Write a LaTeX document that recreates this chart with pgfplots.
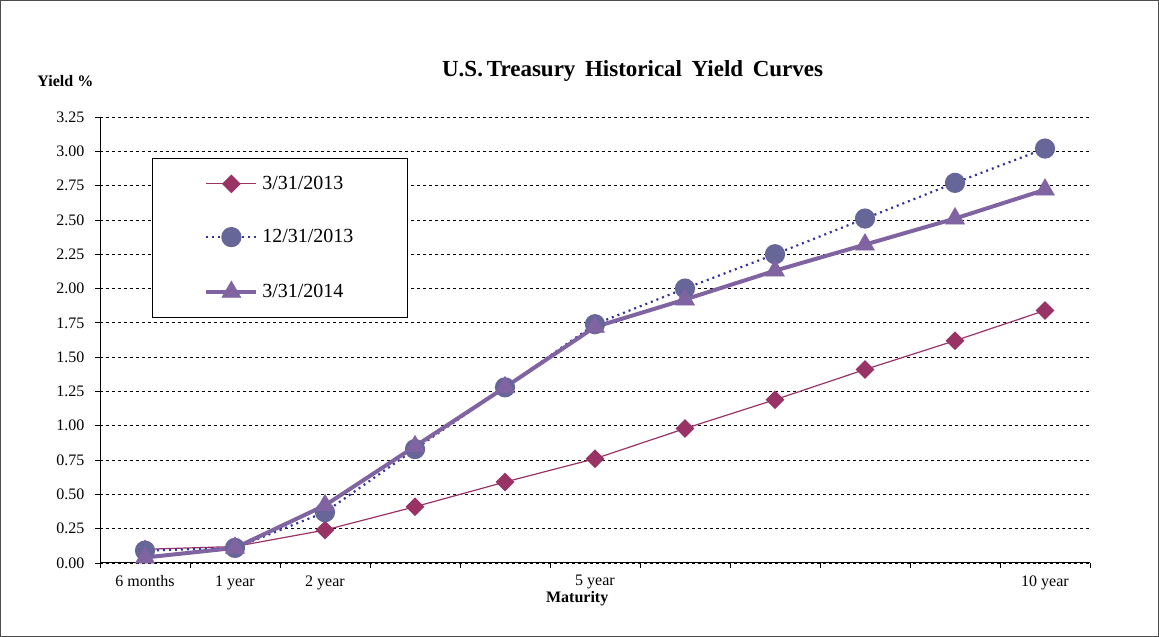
\documentclass[border=0pt]{standalone}
\usepackage{pgfplots}
\pgfplotsset{compat=1.18}
\usepackage{fontspec}
\setmainfont{Liberation Serif}
\definecolor{cA}{HTML}{993366}
\definecolor{cB}{HTML}{666699}
\definecolor{cBl}{HTML}{333399}
\definecolor{cC}{HTML}{8064A2}
\begin{document}
\begin{tikzpicture}
\draw[line width=1bp, draw=black!70] (0.5bp,0.5bp) rectangle (1158.5bp,636.5bp);
\begin{axis}[
  at={(100bp,74bp)}, anchor=south west,
  scale only axis, width=990bp, height=446bp,
  xmin=-0.5, xmax=10.5, ymin=0, ymax=3.25,
  axis x line*=bottom, axis y line*=left,
  axis line style={line width=1bp, -},
  xtick={-0.5,0.5,...,10.5}, xticklabels={},
  extra x ticks={0,1,2,5,10},
  extra x tick labels={6 months,1 year,2 year,5 year,10 year},
  extra x tick style={major tick length=0pt, grid=none, xticklabel style={yshift=-9bp}},
  ytick={0,0.25,...,3.25},
  tick align=outside, major tick length=5bp,
  tick style={line width=0.8bp, black},
  yticklabel style={xshift=-7bp, /pgf/number format/fixed, /pgf/number format/fixed zerofill, /pgf/number format/precision=2, /pgf/number format/assume math mode=true},
  ymajorgrids, grid style={dashed, black, line width=0.8bp},
  tick label style={font=\fontsize{16bp}{18bp}\selectfont},
  legend image code/.code={\draw[#1, mark repeat=2, mark phase=2] plot coordinates {(0bp,0bp)(25bp,0bp)(50bp,0bp)};},
  legend style={at={(0.0525,0.908)}, anchor=north west, draw=black, line width=0.8bp,
    font=\fontsize{20bp}{22bp}\selectfont, inner xsep=52bp, inner ysep=16bp,
    row sep=34.5bp, /tikz/every odd column/.append style={column sep=2bp}},
  legend cell align=left,
  clip=false,
]
\addplot[color=cA, line width=1.2bp, mark=square*, mark size=6bp, mark options={rotate=45, solid, fill=cA}]
  coordinates {(0,0.10)(1,0.12)(2,0.24)(3,0.41)(4,0.59)(5,0.76)(6,0.98)(7,1.19)(8,1.41)(9,1.62)(10,1.84)};
\addlegendentry{3/31/2013}
\addplot[color=cBl, line width=2.2bp, dash pattern={on 2bp off 4bp}, mark=*, mark size=9bp, mark options={solid, fill=cB, draw=cB}]
  coordinates {(0,0.09)(1,0.11)(2,0.37)(3,0.83)(4,1.28)(5,1.74)(6,2.00)(7,2.25)(8,2.51)(9,2.77)(10,3.02)};
\addlegendentry{12/31/2013}
\addplot[color=cC, line width=4bp, mark=triangle*, mark size=11bp, mark options={solid, fill=cC, draw=cC, line width=0.5bp}]
  coordinates {(0,0.04)(1,0.11)(2,0.42)(3,0.85)(4,1.28)(5,1.72)(6,1.92)(7,2.13)(8,2.32)(9,2.51)(10,2.72)};
\addlegendentry{3/31/2014}
\node[font=\fontsize{23bp}{26bp}\selectfont\bfseries] at (axis description cs:0.538,1.103) {U.S.\,Treasury\, Historical\, Yield\, Curves};
\node[font=\fontsize{16bp}{18bp}\selectfont\bfseries] at (axis description cs:-0.035,1.081) {Yield \%};
\node[font=\fontsize{16bp}{18bp}\selectfont\bfseries] at (axis description cs:0.482,-0.079) {Maturity};
\end{axis}
\end{tikzpicture}
\end{document}
